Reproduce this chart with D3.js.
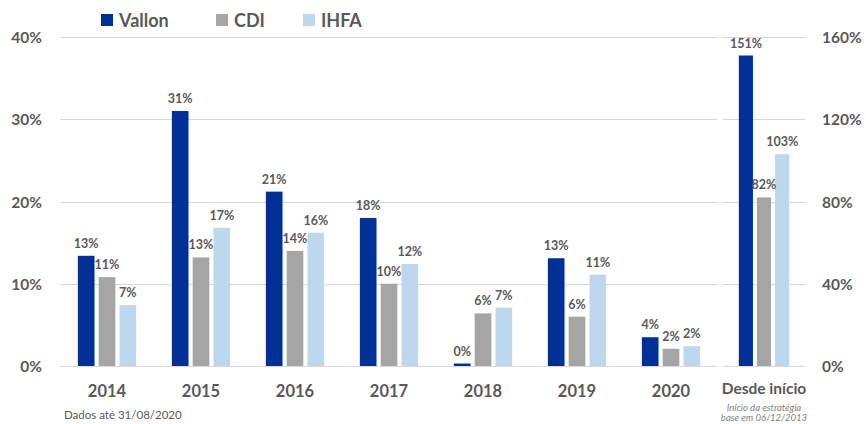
<!DOCTYPE html>
<head>
  <meta charset="utf-8">
  <script src="https://d3js.org/d3.v7.min.js"></script>
  <style>
body { margin: 0; background: #fff; }
svg { display: block; font-family: Lato, "Open Sans", sans-serif; }
.lbl { fill: #595959; font-weight: bold; }
  </style>
</head>
<body>
<svg width="866" height="424"></svg>
<script>
// yearly returns (%)
var categories = ["2014", "2015", "2016", "2017", "2018", "2019", "2020"];
var series = ["Vallon", "CDI", "IHFA"];
var vallon = [13.4, 31.0, 21.2, 18.0, 0.3, 13.1, 3.5];
var cdi    = [10.8, 13.2, 14.0, 10.0, 6.4, 6.0, 2.1];
var ihfa   = [7.4, 16.8, 16.2, 12.4, 7.1, 11.1, 2.4];
// accumulated since start (right axis)
var sinceLabel = "Desde início";
var sinceValues = [151, 82, 103];
var leftTicks = [0, 10, 20, 30, 40];
var rightTicks = [0, 40, 80, 120, 160];

var colors = {Vallon: "#003096", CDI: "#A5A5A5", IHFA: "#BDD7EE"};

var svg = d3.select("svg");
var plotTop = 37, plotBottom = 366;

var yL = d3.scaleLinear().domain([0, 40]).range([plotBottom, plotTop]);
var yR = d3.scaleLinear().domain([0, 160]).range([plotBottom, plotTop]);

var x0 = d3.scaleBand().domain(categories).range([60, 718])
    .paddingInner(0.38).paddingOuter(0.19);
var x1 = d3.scaleBand().domain(series).range([0, x0.bandwidth()]).paddingInner(0.2);

var xR = d3.scaleBand().domain([sinceLabel]).range([722, 806])
    .paddingInner(0.4).paddingOuter(0.2);
var x1R = d3.scaleBand().domain(series).range([0, xR.bandwidth()]).paddingInner(0.22);

// gridlines
svg.append("g").selectAll("line").data(leftTicks).enter().append("line")
    .attr("x1", 60).attr("x2", 718)
    .attr("y1", function(d) { return Math.round(yL(d)) + 0.5; })
    .attr("y2", function(d) { return Math.round(yL(d)) + 0.5; })
    .attr("stroke", "#d9d9d9").attr("stroke-width", 1);
svg.append("g").selectAll("line").data(rightTicks).enter().append("line")
    .attr("x1", 722).attr("x2", 806)
    .attr("y1", function(d) { return Math.round(yR(d)) + 0.5; })
    .attr("y2", function(d) { return Math.round(yR(d)) + 0.5; })
    .attr("stroke", "#d9d9d9").attr("stroke-width", 1);

// axes
var axL = svg.append("g").attr("transform", "translate(42,0)")
    .call(d3.axisLeft(yL).tickValues(leftTicks).tickSize(0).tickPadding(0)
      .tickFormat(function(d) { return d + "%"; }));
var axR = svg.append("g").attr("transform", "translate(822,0)")
    .call(d3.axisRight(yR).tickValues(rightTicks).tickSize(0).tickPadding(0)
      .tickFormat(function(d) { return d + "%"; }));
[axL, axR].forEach(function(a) {
  a.select(".domain").remove();
  a.selectAll("text").attr("class", "lbl").attr("font-size", 15.5)
    .attr("font-family", "Lato, sans-serif").attr("dy", "0.36em");
});

var axX = svg.append("g").attr("transform", "translate(0," + plotBottom + ")")
    .call(d3.axisBottom(x0).tickSize(0).tickPadding(0));
axX.select(".domain").remove();
axX.selectAll("text").attr("class", "lbl").attr("font-size", 16.5)
    .attr("font-family", "Lato, sans-serif").attr("y", 31).attr("dy", 0);

// bars, left panel
var rows = categories.map(function(c, i) {
  return {cat: c, vals: [
    {s: "Vallon", v: vallon[i]}, {s: "CDI", v: cdi[i]}, {s: "IHFA", v: ihfa[i]}]};
});

var grp = svg.append("g").selectAll("g").data(rows).enter().append("g")
    .attr("transform", function(d) { return "translate(" + x0(d.cat) + ",0)"; });
grp.selectAll("rect").data(function(d) { return d.vals; }).enter().append("rect")
    .attr("x", function(d) { return x1(d.s); })
    .attr("width", x1.bandwidth())
    .attr("y", function(d) { return yL(d.v); })
    .attr("height", function(d) { return plotBottom - yL(d.v); })
    .attr("fill", function(d) { return colors[d.s]; });
grp.selectAll("text").data(function(d) { return d.vals; }).enter().append("text")
    .attr("class", "lbl").attr("font-size", 12.5).attr("text-anchor", "middle")
    .attr("x", function(d) { return x1(d.s) + x1.bandwidth() / 2; })
    .attr("y", function(d) { return yL(d.v) - 8; })
    .text(function(d) { return Math.round(d.v) + "%"; });

// bars, right panel
var rg = svg.append("g").attr("transform", "translate(" + xR(sinceLabel) + ",0)");
var rvals = series.map(function(s, i) { return {s: s, v: sinceValues[i]}; });
rg.selectAll("rect").data(rvals).enter().append("rect")
    .attr("x", function(d) { return x1R(d.s); })
    .attr("width", x1R.bandwidth())
    .attr("y", function(d) { return yR(d.v); })
    .attr("height", function(d) { return plotBottom - yR(d.v); })
    .attr("fill", function(d) { return colors[d.s]; });
rg.selectAll("text").data(rvals).enter().append("text")
    .attr("class", "lbl").attr("font-size", 12.5).attr("text-anchor", "middle")
    .attr("x", function(d) { return x1R(d.s) + x1R.bandwidth() / 2; })
    .attr("y", function(d) { return yR(d.v) - 8; })
    .text(function(d) { return d.v + "%"; });

var cx = xR(sinceLabel) + xR.bandwidth() / 2;
svg.append("text").attr("class", "lbl").attr("font-size", 15.5)
    .attr("text-anchor", "middle").attr("x", cx).attr("y", 394).text(sinceLabel);
svg.append("text").attr("font-size", 9.5).attr("font-style", "italic").attr("fill", "#7f7f7f")
    .attr("text-anchor", "middle").attr("x", cx).attr("y", 411).text("Início da estratégia");
svg.append("text").attr("font-size", 9.5).attr("font-style", "italic").attr("fill", "#7f7f7f")
    .attr("text-anchor", "middle").attr("x", cx).attr("y", 421).text("base em 06/12/2013");

svg.append("text").attr("font-size", 11.5).attr("fill", "#595959")
    .attr("x", 64).attr("y", 419).text("Dados até 31/08/2020");

// legend
var legX = [101, 216, 303];
var leg = svg.append("g").selectAll("g").data(series).enter().append("g")
    .attr("transform", function(d, i) { return "translate(" + legX[i] + ",0)"; });
leg.append("rect").attr("y", 14).attr("width", 12).attr("height", 12)
    .attr("fill", function(d) { return colors[d]; });
leg.append("text").attr("class", "lbl").attr("font-size", 18)
    .attr("x", 18).attr("y", 27).text(function(d) { return d; });
</script>
</body>
